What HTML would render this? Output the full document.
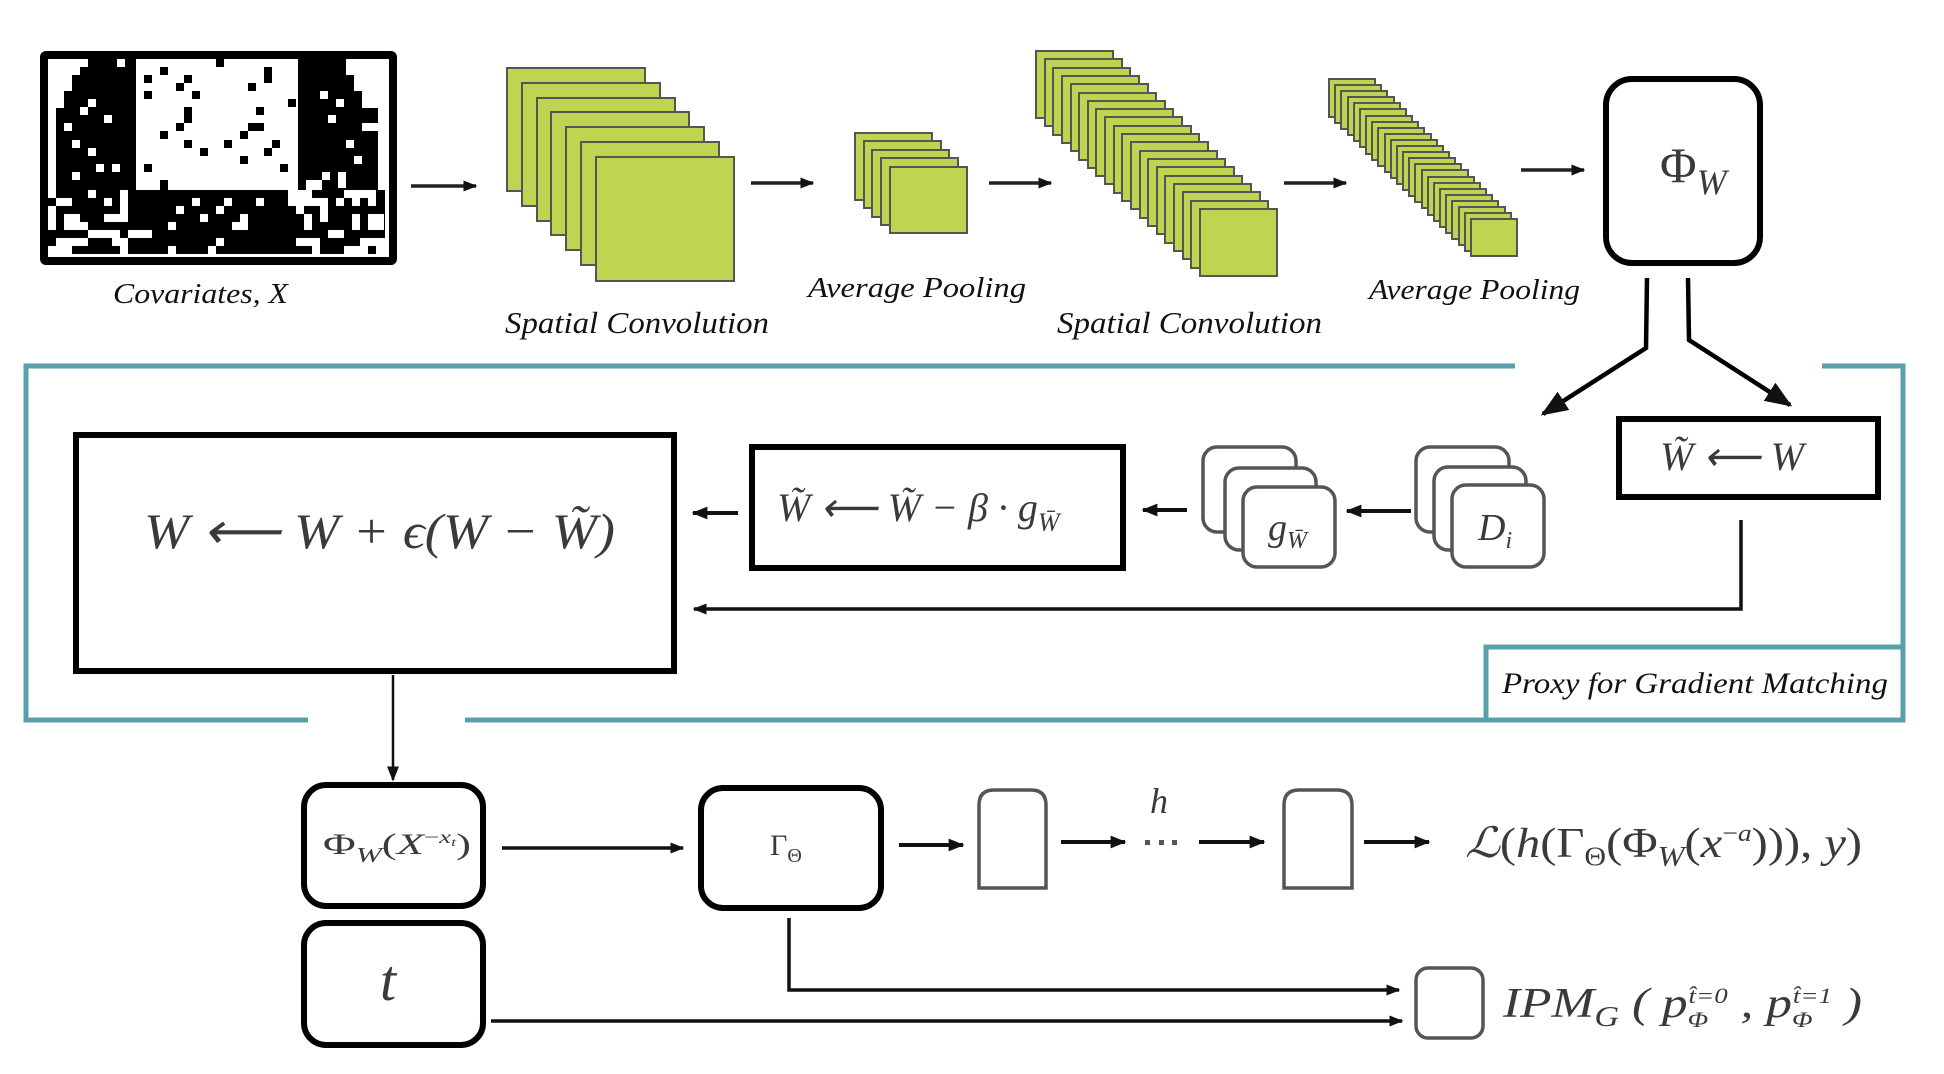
<!DOCTYPE html>
<html><head><meta charset="utf-8"><style>
html,body{margin:0;padding:0;background:#fff;}
svg{display:block;}
.lbl{font-family:"Liberation Serif",serif;font-style:italic;fill:#111;}
.m{font-family:"Liberation Serif",serif;fill:#3a3a3a;}
.mi{font-family:"Liberation Serif",serif;font-style:italic;fill:#3a3a3a;}
</style></head><body>
<svg width="1944" height="1074" viewBox="0 0 1944 1074" xmlns="http://www.w3.org/2000/svg">
<defs>
<marker id="ah" viewBox="0 0 10 10" refX="9" refY="5" markerWidth="4" markerHeight="4" orient="auto-start-reverse" markerUnits="strokeWidth"><path d="M0,1 L10,5 L0,9 z" fill="#111"/></marker>
<marker id="ah2" viewBox="0 0 10 10" refX="9" refY="5" markerWidth="6" markerHeight="6" orient="auto" markerUnits="strokeWidth"><path d="M0,1 L10,5 L0,9 z" fill="#111"/></marker>
</defs>

<rect x="44" y="55" width="349" height="206" fill="#fff" stroke="#000" stroke-width="8" rx="2"/>
<g fill="#000">
<path d="M88,59 H136 V190 H56 V108 H64 V91 H72 V75 H80 V67 H88 Z"/>
<path d="M298,59 H346 V75 H354 V91 H362 V108 H378 V190 H298 Z"/>
<rect x="48" y="190" width="337" height="64"/>
<rect x="160" y="67" width="8" height="8"/><rect x="216" y="59" width="8" height="8"/>
<rect x="144" y="75" width="8" height="8"/><rect x="184" y="75" width="8" height="8"/><rect x="264" y="67" width="8" height="16"/>
<rect x="176" y="83" width="8" height="8"/><rect x="248" y="83" width="8" height="8"/>
<rect x="144" y="91" width="8" height="8"/><rect x="192" y="91" width="8" height="8"/><rect x="288" y="99" width="8" height="8"/>
<rect x="184" y="107" width="8" height="16"/><rect x="256" y="107" width="8" height="8"/>
<rect x="176" y="123" width="8" height="8"/><rect x="248" y="123" width="16" height="8"/>
<rect x="160" y="131" width="8" height="8"/><rect x="240" y="131" width="8" height="8"/>
<rect x="184" y="140" width="8" height="8"/><rect x="224" y="140" width="8" height="8"/><rect x="272" y="140" width="8" height="8"/>
<rect x="200" y="148" width="8" height="8"/><rect x="264" y="148" width="8" height="8"/>
<rect x="240" y="156" width="8" height="8"/><rect x="144" y="164" width="8" height="8"/><rect x="280" y="164" width="8" height="8"/>
<rect x="160" y="180" width="8" height="10"/>
</g>
<g fill="#fff">
<rect x="117" y="59" width="8" height="8"/><rect x="88" y="99" width="8" height="8"/><rect x="80" y="107" width="8" height="8"/>
<rect x="104" y="115" width="8" height="8"/><rect x="64" y="123" width="8" height="8"/><rect x="72" y="140" width="8" height="8"/>
<rect x="88" y="148" width="8" height="8"/><rect x="96" y="164" width="8" height="8"/><rect x="112" y="164" width="8" height="8"/>
<rect x="72" y="172" width="8" height="8"/><rect x="48" y="164" width="8" height="8"/><rect x="136" y="172" width="8" height="18"/>
<rect x="320" y="91" width="8" height="8"/><rect x="336" y="99" width="8" height="8"/><rect x="328" y="115" width="8" height="8"/>
<rect x="362" y="123" width="16" height="8"/><rect x="346" y="140" width="8" height="8"/><rect x="354" y="156" width="8" height="8"/>
<rect x="338" y="172" width="8" height="16"/><rect x="322" y="172" width="8" height="8"/><rect x="306" y="180" width="16" height="10"/>
<rect x="48" y="190" width="8" height="8"/><rect x="56" y="198" width="16" height="8"/><rect x="88" y="190" width="8" height="8"/>
<rect x="104" y="198" width="8" height="8"/><rect x="120" y="190" width="8" height="24"/><rect x="104" y="214" width="24" height="8"/>
<rect x="48" y="206" width="8" height="24"/><rect x="64" y="214" width="16" height="16"/><rect x="80" y="222" width="8" height="8"/>
<rect x="56" y="238" width="32" height="8"/><rect x="48" y="246" width="24" height="8"/><rect x="88" y="230" width="32" height="8"/>
<rect x="112" y="238" width="16" height="8"/><rect x="128" y="230" width="24" height="8"/>
<rect x="120" y="246" width="8" height="8"/><rect x="168" y="222" width="8" height="8"/><rect x="176" y="206" width="8" height="8"/>
<rect x="168" y="246" width="8" height="8"/><rect x="192" y="198" width="8" height="8"/><rect x="200" y="214" width="8" height="8"/>
<rect x="216" y="238" width="8" height="8"/><rect x="216" y="206" width="8" height="8"/><rect x="224" y="198" width="8" height="8"/>
<rect x="208" y="246" width="8" height="8"/><rect x="232" y="222" width="16" height="8"/><rect x="240" y="214" width="8" height="8"/>
<rect x="256" y="198" width="8" height="8"/><rect x="288" y="190" width="24" height="16"/><rect x="312" y="198" width="16" height="8"/>
<rect x="296" y="206" width="8" height="8"/><rect x="320" y="206" width="8" height="16"/><rect x="304" y="214" width="8" height="16"/>
<rect x="344" y="190" width="32" height="8"/><rect x="336" y="198" width="8" height="8"/><rect x="352" y="198" width="8" height="8"/>
<rect x="368" y="190" width="8" height="16"/><rect x="352" y="214" width="8" height="16"/><rect x="368" y="214" width="16" height="16"/>
<rect x="328" y="230" width="16" height="8"/><rect x="296" y="238" width="24" height="8"/><rect x="312" y="246" width="8" height="8"/>
<rect x="344" y="246" width="24" height="8"/><rect x="360" y="238" width="16" height="8"/><rect x="376" y="238" width="9" height="16"/>
</g>
<text class="lbl" x="113" y="303" font-size="29" textLength="175" lengthAdjust="spacingAndGlyphs">Covariates, X</text>

<g stroke="#222" stroke-width="3.5" fill="none">
<line x1="411" y1="186" x2="476" y2="186" marker-end="url(#ah)"/>
<line x1="751" y1="183" x2="813" y2="183" marker-end="url(#ah)"/>
<line x1="989" y1="183" x2="1051" y2="183" marker-end="url(#ah)"/>
<line x1="1284" y1="183" x2="1346" y2="183" marker-end="url(#ah)"/>
<line x1="1521" y1="170" x2="1584" y2="170" marker-end="url(#ah)"/>
</g>

<g fill="#bfd552" stroke="#555" stroke-width="2">
<rect x="507" y="68" width="138" height="123"/>
<rect x="522" y="83" width="138" height="123"/>
<rect x="537" y="98" width="138" height="123"/>
<rect x="551" y="112" width="138" height="123"/>
<rect x="566" y="127" width="138" height="123"/>
<rect x="581" y="142" width="138" height="123"/>
<rect x="596" y="157" width="138" height="124"/>
</g>
<text class="lbl" x="505" y="333" font-size="31" textLength="264" lengthAdjust="spacingAndGlyphs">Spatial Convolution</text>

<g fill="#bfd552" stroke="#555" stroke-width="2">
<rect x="855" y="133" width="77" height="67"/>
<rect x="864" y="141" width="77" height="67"/>
<rect x="872" y="150" width="77" height="67"/>
<rect x="881" y="158" width="77" height="67"/>
<rect x="890" y="167" width="77" height="66"/>
</g>
<text class="lbl" x="808" y="297" font-size="29" textLength="218" lengthAdjust="spacingAndGlyphs">Average Pooling</text>

<g fill="#bfd552" stroke="#555" stroke-width="2">
<rect x="1036" y="51" width="77" height="67"/><rect x="1045" y="59" width="77" height="67"/><rect x="1053" y="68" width="77" height="67"/><rect x="1062" y="76" width="77" height="67"/>
<rect x="1071" y="84" width="77" height="67"/><rect x="1079" y="93" width="77" height="67"/><rect x="1088" y="101" width="77" height="67"/><rect x="1096" y="109" width="77" height="67"/>
<rect x="1105" y="117" width="77" height="67"/><rect x="1114" y="126" width="77" height="67"/><rect x="1122" y="134" width="77" height="67"/><rect x="1131" y="142" width="77" height="67"/>
<rect x="1140" y="151" width="77" height="67"/><rect x="1148" y="159" width="77" height="67"/><rect x="1157" y="167" width="77" height="67"/><rect x="1165" y="176" width="77" height="67"/>
<rect x="1174" y="184" width="77" height="67"/><rect x="1183" y="192" width="77" height="67"/><rect x="1191" y="201" width="77" height="67"/><rect x="1200" y="209" width="77" height="67"/>
</g>
<text class="lbl" x="1057" y="333" font-size="31" textLength="265" lengthAdjust="spacingAndGlyphs">Spatial Convolution</text>

<g fill="#bfd552" stroke="#555" stroke-width="2">
<rect x="1329" y="79" width="46" height="38"/><rect x="1335" y="85" width="46" height="38"/><rect x="1341" y="91" width="46" height="38"/><rect x="1348" y="97" width="46" height="38"/>
<rect x="1354" y="103" width="46" height="38"/><rect x="1360" y="109" width="46" height="38"/><rect x="1366" y="116" width="46" height="38"/><rect x="1372" y="122" width="46" height="38"/>
<rect x="1378" y="128" width="46" height="38"/><rect x="1385" y="134" width="46" height="38"/><rect x="1391" y="140" width="46" height="38"/><rect x="1397" y="146" width="46" height="38"/>
<rect x="1403" y="152" width="46" height="38"/><rect x="1409" y="158" width="46" height="38"/><rect x="1415" y="164" width="46" height="38"/><rect x="1422" y="170" width="46" height="38"/>
<rect x="1428" y="177" width="46" height="38"/><rect x="1434" y="183" width="46" height="38"/><rect x="1440" y="189" width="46" height="38"/><rect x="1446" y="195" width="46" height="38"/>
<rect x="1452" y="201" width="46" height="38"/><rect x="1459" y="207" width="46" height="38"/><rect x="1465" y="213" width="46" height="38"/><rect x="1471" y="219" width="46" height="37"/>
</g>
<text class="lbl" x="1369" y="299" font-size="29" textLength="211" lengthAdjust="spacingAndGlyphs">Average Pooling</text>

<rect x="1606" y="79" width="154" height="184" rx="26" fill="#fff" stroke="#000" stroke-width="6"/>
<text class="m" x="1660" y="182" font-size="50">Φ<tspan class="mi" font-size="36" dy="12">W</tspan></text>

<g stroke="#000" stroke-width="4.5" fill="none" stroke-linejoin="miter">
<polyline points="1647,278 1646,348 1543,414" marker-end="url(#ah2)"/>
<polyline points="1688,278 1689,340 1790,405" marker-end="url(#ah2)"/>
</g>

<g stroke="#5aa0aa" stroke-width="5" fill="none">
<polyline points="1515,366 26,366 26,720 308,720"/>
<polyline points="465,720 1903,720 1903,366 1822,366"/>
<rect x="1486" y="647" width="417" height="73"/>
</g>
<text class="lbl" x="1502" y="693" font-size="30" textLength="386" lengthAdjust="spacingAndGlyphs">Proxy for Gradient Matching</text>

<rect x="76" y="435" width="598" height="236" fill="#fff" stroke="#000" stroke-width="6"/>
<text class="mi" x="144" y="548" font-size="50" textLength="471" lengthAdjust="spacingAndGlyphs">W <tspan class="m">⟵</tspan> W <tspan class="m">+</tspan> ϵ<tspan class="m">(</tspan>W <tspan class="m">−</tspan> W̃<tspan class="m">)</tspan></text>

<rect x="752" y="447" width="371" height="121" fill="#fff" stroke="#000" stroke-width="6"/>
<text class="mi" x="777" y="521" font-size="40">W̃ <tspan class="m">⟵</tspan> W̃ <tspan class="m">−</tspan> β <tspan class="m">·</tspan> g<tspan font-size="26" dy="10">W̄</tspan></text>

<rect x="1619" y="419" width="259" height="78" fill="#fff" stroke="#000" stroke-width="6"/>
<text class="mi" x="1660" y="470" font-size="40">W̃ <tspan class="m">⟵</tspan> W</text>

<g fill="#fff" stroke="#555" stroke-width="3.5">
<rect x="1203" y="447" width="93" height="85" rx="14"/>
<rect x="1225" y="468" width="91" height="82" rx="14"/>
<rect x="1243" y="487" width="92" height="80" rx="14"/>
<rect x="1416" y="447" width="93" height="85" rx="14"/>
<rect x="1434" y="467" width="92" height="83" rx="14"/>
<rect x="1452" y="485" width="92" height="82" rx="14"/>
</g>
<text class="mi" x="1268" y="540" font-size="38">g<tspan font-size="24" dy="8">W̄</tspan></text>
<text class="mi" x="1478" y="540" font-size="38">D<tspan font-size="24" dy="8">i</tspan></text>

<g stroke="#111" stroke-width="4" fill="none">
<line x1="738" y1="513" x2="693" y2="513" marker-end="url(#ah)"/>
<line x1="1187" y1="510" x2="1143" y2="510" marker-end="url(#ah)"/>
<line x1="1411" y1="511" x2="1347" y2="511" marker-end="url(#ah)"/>
<polyline points="1741,520 1741,609 694,609" stroke-width="3.5" marker-end="url(#ah)"/>
<line x1="393" y1="675" x2="393" y2="780" stroke-width="2.5" marker-end="url(#ah2)"/>
</g>

<g fill="#fff" stroke="#000" stroke-width="6">
<rect x="304" y="785" width="179" height="121" rx="22"/>
<rect x="304" y="923" width="179" height="122" rx="22"/>
<rect x="701" y="788" width="180" height="120" rx="22"/>
</g>
<text class="m" x="323" y="854" font-size="30" textLength="148" lengthAdjust="spacingAndGlyphs">Φ<tspan class="mi" font-size="21" dy="8">W</tspan><tspan dy="-8">(</tspan><tspan class="mi">X</tspan><tspan font-size="18" dy="-11">−</tspan><tspan class="mi" font-size="18">x</tspan><tspan class="mi" font-size="12" dy="3">t</tspan><tspan dy="8">)</tspan></text>
<text class="m" x="770" y="855" font-size="30">Γ<tspan font-size="20" dy="7">Θ</tspan></text>
<text class="mi" x="380" y="1000" font-size="58" fill="#333">t</text>

<g fill="#fff" stroke="#555" stroke-width="3.5">
<path d="M979,888 V805 Q979,790 994,790 H1031 Q1046,790 1046,805 V888 Z"/>
<path d="M1284,888 V805 Q1284,790 1299,790 H1337 Q1352,790 1352,805 V888 Z"/>
<rect x="1416" y="968" width="67" height="70" rx="12"/>
</g>
<text class="mi" x="1150" y="813" font-size="36">h</text>
<g stroke="#111" stroke-width="4" fill="none">
<line x1="502" y1="848" x2="683" y2="848" stroke-width="3.5" marker-end="url(#ah)"/>
<line x1="899" y1="845" x2="963" y2="845" marker-end="url(#ah)"/>
<line x1="1061" y1="842" x2="1125" y2="842" marker-end="url(#ah)"/>
<line x1="1199" y1="842" x2="1264" y2="842" marker-end="url(#ah)"/>
<line x1="1364" y1="842" x2="1429" y2="842" marker-end="url(#ah)"/>
<polyline points="789,918 789,990 1399,990" stroke-width="3.5" marker-end="url(#ah)"/>
<line x1="491" y1="1021" x2="1402" y2="1021" stroke-width="3.5" marker-end="url(#ah)"/>
</g>
<g fill="#555"><rect x="1145" y="840" width="5" height="5"/><rect x="1159" y="840" width="5" height="5"/><rect x="1172" y="840" width="5" height="5"/></g>

<text class="m" x="1465" y="857" font-size="42" textLength="397" lengthAdjust="spacingAndGlyphs"><tspan class="mi">ℒ</tspan>(<tspan class="mi">h</tspan>(Γ<tspan font-size="26" dy="8">Θ</tspan><tspan dy="-8">(Φ</tspan><tspan class="mi" font-size="28" dy="9">W</tspan><tspan dy="-9">(</tspan><tspan class="mi">x</tspan><tspan font-size="24" dy="-16">−</tspan><tspan class="mi" font-size="24">a</tspan><tspan dy="16">))),</tspan> <tspan class="mi">y</tspan>)</text>
<text class="mi" x="1503" y="1017" font-size="42" textLength="359" lengthAdjust="spacingAndGlyphs">IPM<tspan font-size="28" dy="9">G</tspan><tspan class="m" dy="-9"> ( </tspan>p<tspan class="m" font-size="22" dy="10">Φ</tspan><tspan font-size="22" dx="-16" dy="-24">t̂</tspan><tspan class="m" font-size="22">=0</tspan><tspan class="m" dy="14"> , </tspan>p<tspan class="m" font-size="22" dy="10">Φ</tspan><tspan font-size="22" dx="-16" dy="-24">t̂</tspan><tspan class="m" font-size="22">=1</tspan><tspan class="m" dy="14"> )</tspan></text>
</svg>
</body></html>
